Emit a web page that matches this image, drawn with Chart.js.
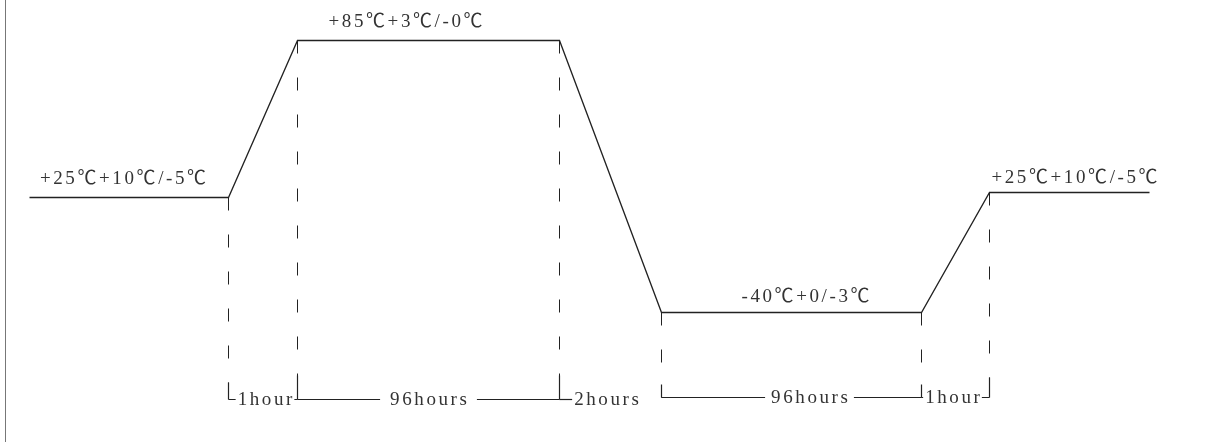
<!DOCTYPE html>
<html>
<head>
<meta charset="utf-8">
<script src="https://cdn.jsdelivr.net/npm/chart.js@4.4.0/dist/chart.umd.min.js"></script>
<style>
    html, body { margin: 0; padding: 0; background: #fff; }
    #wrap { position: relative; width: 1213px; height: 442px; }
    #frame { position: absolute; left: 5px; top: 0; height: 442px; border-left: 1.5px solid #777; }
</style>
</head>
<body>
<div id="wrap"><canvas id="profile"></canvas><div id="frame"></div></div>
<script>
// Temperature cycle profile - schematic, not to scale
// x = schematic time position, y = schematic temperature level
const stepX = [29, 228, 297, 559, 661, 921, 989, 1149];
const stepLevel = [244, 244, 401, 401, 129, 129, 249, 249];

// Plateau labels (index of the first point of each flat segment)
const plateauStart = [0, 2, 4, 6];
const plateauText = ['+25℃+10℃/-5℃', '+85℃+3℃/-0℃', '-40℃+0/-3℃', '+25℃+10℃/-5℃'];

// Duration labels between breakpoints
const spanFrom = [1, 2, 3, 4, 5];
const spanText = ['1hour', '96hours', '2hours', '96hours', '1hour'];

// Drop lines under each breakpoint and the level of their bracket
const dropIndex = [1, 2, 3, 4, 5, 6];
const bracketLevel = [42, 42, 42, 44, 44, 44];

const INK = '#222';

// Profile line
const datasets = [{
    data: stepX.map((x, i) => ({ x: x, y: stepLevel[i] })),
    borderColor: INK,
    borderWidth: 1.3
}];

// Dashed drop lines
dropIndex.forEach((k, j) => {
    datasets.push({
        data: [{ x: stepX[k], y: stepLevel[k] }, { x: stepX[k], y: bracketLevel[j] }],
        borderColor: INK,
        borderWidth: 1,
        borderDash: [13, 24]
    });
});

// Labels and duration brackets
const annotate = {
    id: 'annotate',
    afterDatasetsDraw(chart, args, opts) {
        const ctx = chart.ctx;
        const xs = chart.scales.x;
        const ys = chart.scales.y;

        ctx.save();
        ctx.font = opts.font;
        ctx.letterSpacing = opts.spacing + 'px';
        ctx.fillStyle = opts.color;
        ctx.strokeStyle = INK;
        ctx.lineWidth = 1.2;
        ctx.textBaseline = 'alphabetic';

        const textWidth = t => ctx.measureText(t).width - opts.spacing;

        plateauStart.forEach((k, i) => {
            const x0 = xs.getPixelForValue(stepX[k]);
            const x1 = xs.getPixelForValue(stepX[k + 1]);
            const w = textWidth(plateauText[i]);
            const cx = (x0 + x1) / 2 + opts.plateauShift[i];
            ctx.fillText(plateauText[i], cx - w / 2, ys.getPixelForValue(stepLevel[k]) - opts.plateauLift[i]);
        });

        // solid ends of the drop lines
        dropIndex.forEach((k, j) => {
            const px = xs.getPixelForValue(stepX[k]);
            const by = ys.getPixelForValue(bracketLevel[j]);
            ctx.beginPath();
            ctx.moveTo(px, by - opts.tickLength[j]);
            ctx.lineTo(px, by);
            ctx.stroke();
        });

        spanFrom.forEach((k, i) => {
            const x0 = xs.getPixelForValue(stepX[k]);
            const x1 = xs.getPixelForValue(stepX[k + 1]);
            const by = ys.getPixelForValue(bracketLevel[i]);
            const w = textWidth(spanText[i]);
            const tx = (x0 + x1) / 2 + opts.spanShift[i] - w / 2;
            ctx.fillText(spanText[i], tx, by + opts.spanDrop);

            const leftEnd = tx - opts.gap[i];
            const rightStart = tx + w + opts.gap[i];
            ctx.beginPath();
            if (leftEnd > x0) { ctx.moveTo(x0, by); ctx.lineTo(leftEnd, by); }
            if (rightStart < x1 && i !== 2) { ctx.moveTo(rightStart, by); ctx.lineTo(x1, by); }
            ctx.stroke();
        });

        ctx.restore();
    }
};

new Chart(document.getElementById('profile'), {
    type: 'line',
    data: { datasets: datasets },
    options: {
        responsive: true,
        maintainAspectRatio: false,
        animation: false,
        layout: { padding: 0 },
        elements: {
            point: { radius: 0, hoverRadius: 0 },
            line: { tension: 0, fill: false, borderCapStyle: 'butt' }
        },
        plugins: {
            legend: { display: false },
            tooltip: { enabled: false },
            annotate: {
                font: '19px "Liberation Serif", "Noto Sans CJK SC", serif',
                spacing: 2.6,
                color: '#333',
                plateauShift: [-6, -23, 14, 5],
                plateauLift: [14, 14, 11, 10],
                spanShift: [2, 0, -4, 18, -3],
                spanDrop: 5,
                gap: [2, 10, 2, 6, 2],
                tickLength: [17, 24, 24, 13, 13, 20]
            }
        },
        scales: {
            // half-pixel offset keeps thin lines crisp
            x: { type: 'linear', min: -0.5, max: 1212.5, display: false },
            y: { min: -0.5, max: 441.5, display: false }
        }
    },
    plugins: [annotate]
});
</script>
</body>
</html>
